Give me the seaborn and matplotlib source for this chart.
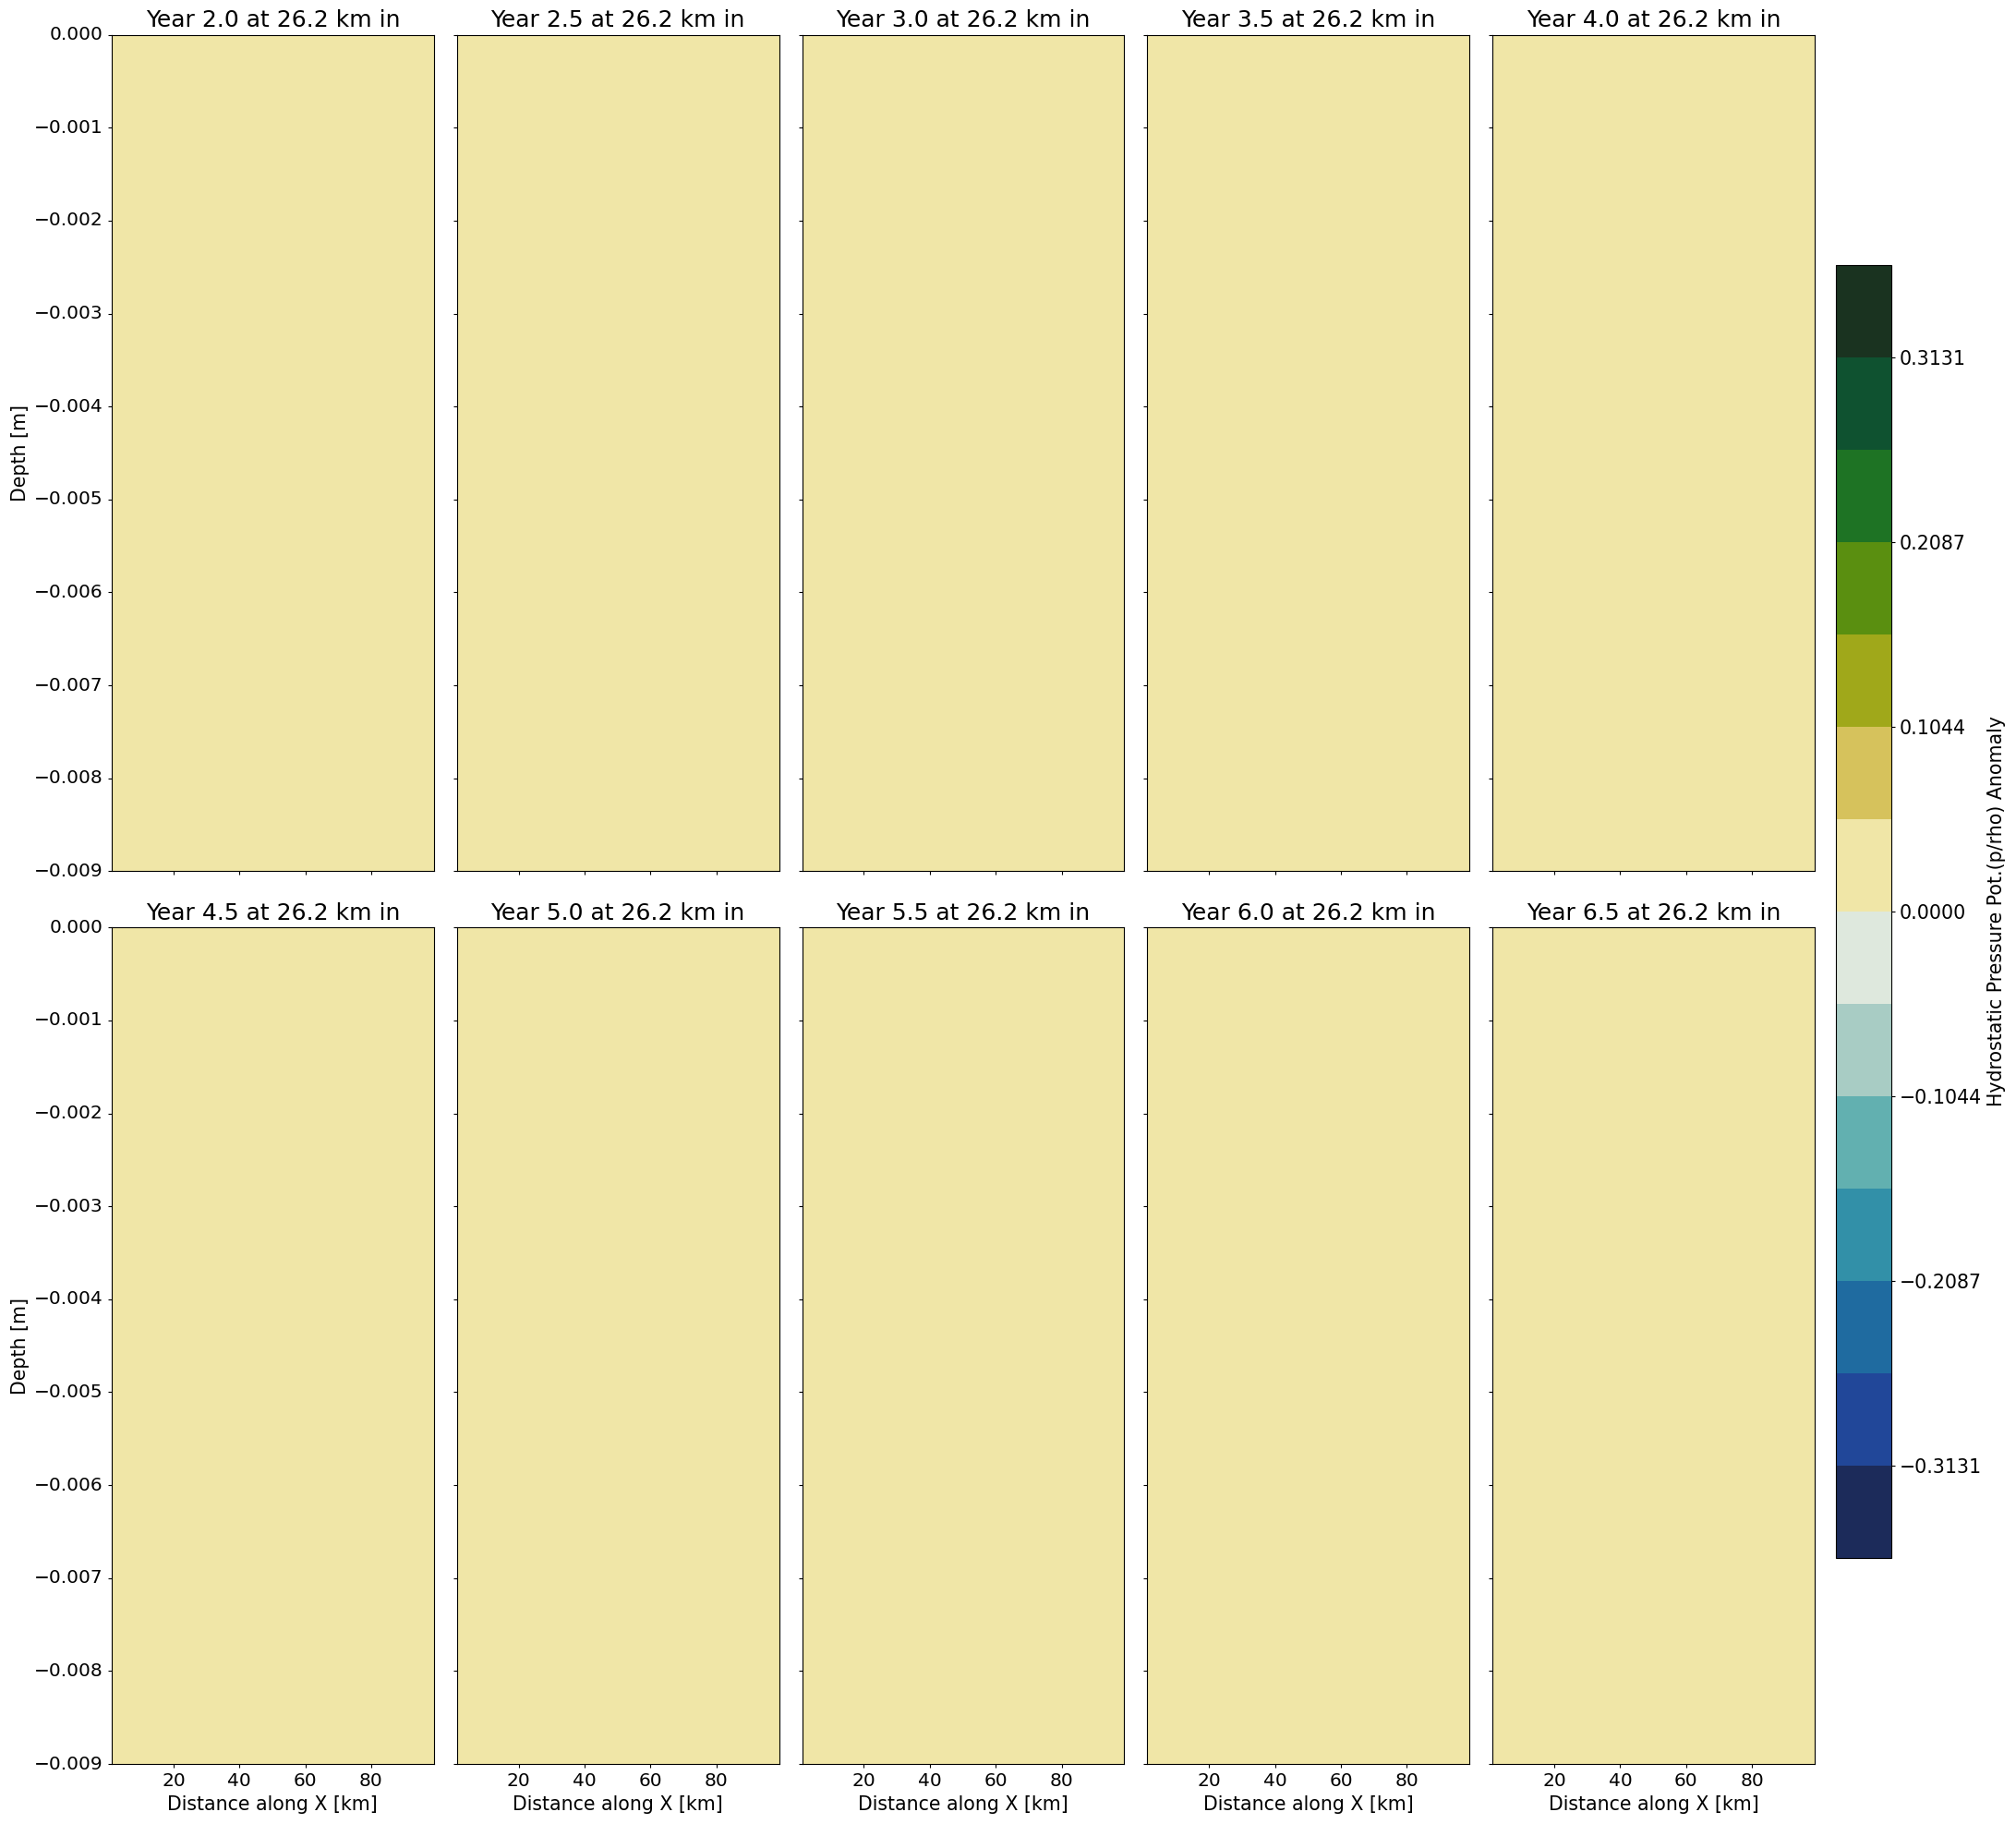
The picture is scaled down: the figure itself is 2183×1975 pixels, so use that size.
import numpy as np
import pandas as pd
import matplotlib
matplotlib.use("Agg")
import matplotlib.pyplot as plt
from matplotlib.colors import ListedColormap, BoundaryNorm
from matplotlib.cm import ScalarMappable
from matplotlib.ticker import FuncFormatter
import seaborn as sns

# panels: one section per half year, all at the same cross-shelf distance
years = [2.0, 2.5, 3.0, 3.5, 4.0, 4.5, 5.0, 5.5, 6.0, 6.5]
section_km = 26.2
# anomaly in each section (uniform, lands in the 0 .. 0.052 bin)
anomaly = [0.0, 0.0, 0.0, 0.0, 0.0, 0.0, 0.0, 0.0, 0.0, 0.0]

x_range_km = [1.25, 99.0]
depth_range_m = [0.0, -0.009]
x_ticks_km = [20, 40, 60, 80]
depth_ticks_m = [0.0, -0.001, -0.002, -0.003, -0.004, -0.005,
                 -0.006, -0.007, -0.008, -0.009]

level_bounds = [-0.3653, -0.3131, -0.2610, -0.2087, -0.1566, -0.1044, -0.0522, 0.0,
                0.0522, 0.1044, 0.1566, 0.2087, 0.2610, 0.3131, 0.3653]
cbar_ticks = [-0.3131, -0.2087, -0.1044, 0.0, 0.1044, 0.2087, 0.3131]
level_colors = ['#1c2b5a', '#214799', '#1f6ba0', '#3290a8', '#62b0b0', '#a8ccc4', '#dee8dd',
                '#f0e6a7', '#d6c25c', '#a0a81a', '#5a8f10', '#1e7324', '#0f5230', '#1a3320']

cmap = ListedColormap(level_colors)
norm = BoundaryNorm(level_bounds, ncolors=len(level_colors))

fs = 14.5
plt.rcParams['font.size'] = fs

W, H = 2183, 1975
fig = plt.figure(figsize=(W / 100, H / 100), dpi=100)

col_left = 121
col_step = 373.8
pan_w = 348.7
row_top = [37.6, 1004.3]
pan_h = 905.7

def to_col(km):
    return (km - x_range_km[0]) / (x_range_km[1] - x_range_km[0])

def to_row(d):
    return (d - depth_range_m[0]) / (depth_range_m[1] - depth_range_m[0])

minus = lambda s: s.replace('-', '\u2212')

for i, yr in enumerate(years):
    r, c = divmod(i, 5)
    left = (col_left + c * col_step) / W
    bottom = 1 - (row_top[r] + pan_h) / H
    ax = fig.add_axes([left, bottom, pan_w / W, pan_h / H])

    field = pd.DataFrame([[anomaly[i]]])
    sns.heatmap(field, ax=ax, cmap=cmap, norm=norm, cbar=False,
                xticklabels=False, yticklabels=False)

    for sp in ax.spines.values():
        sp.set_visible(True)
        sp.set_color('black')
        sp.set_linewidth(0.8)

    ax.set_xticks([to_col(k) for k in x_ticks_km])
    ax.set_yticks([to_row(d) for d in depth_ticks_m])
    if r == 1:
        ax.set_xticklabels([str(k) for k in x_ticks_km], rotation=0)
        ax.set_xlabel('Distance along X [km]', fontsize=14.8)
    else:
        ax.set_xticklabels([])
        ax.set_xlabel('')
    if c == 0:
        ax.set_yticklabels([minus(f'{d:.3f}') for d in depth_ticks_m], rotation=0, va='center')
        ax.set_ylabel('Depth [m]', fontsize=14.8)
    else:
        ax.set_yticklabels([])
        ax.set_ylabel('')
    ax.tick_params(length=3.0, width=0.8, labelsize=fs, color='black')
    ax.set_title(f'Year {yr:.1f} at {section_km} km in', fontsize=18)

cax = fig.add_axes([1988 / W, 1 - 1687 / H, 60 / W, 1400 / H])
cb = fig.colorbar(ScalarMappable(norm=norm, cmap=cmap), cax=cax, ticks=cbar_ticks,
                  format=FuncFormatter(lambda v, p: minus(f'{v:.4f}')))
cb.outline.set_linewidth(0.8)
cb.ax.minorticks_off()
cb.ax.tick_params(length=3.0, width=0.8, labelsize=14.8)
cb.set_label('Hydrostatic Pressure Pot.(p/rho) Anomaly', fontsize=14.8)

fig.savefig('out.png', dpi=100)
